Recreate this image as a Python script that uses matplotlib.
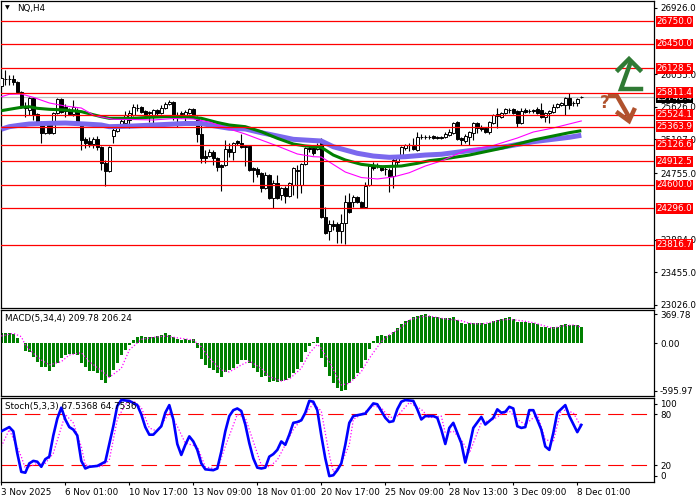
import numpy as np
import matplotlib
matplotlib.use('Agg')
import matplotlib.pyplot as plt
from matplotlib.patches import Rectangle
from matplotlib.transforms import blended_transform_factory

# NQ H4 candles
opens = [25899, 25991, 25991, 25991, 25951, 25820, 25623, 25584, 25741, 25531,
         25426, 25282, 25400, 25282, 25544, 25728, 25623, 25584, 25531, 25571,
         25387, 25203, 25177, 25138, 25203, 25098, 24888, 24783, 25243, 25308,
         25374, 25413, 25453, 25518, 25610, 25623, 25571, 25544, 25518, 25584,
         25544, 25610, 25663, 25689, 25518, 25531, 25518, 25544, 25597, 25492,
         25269, 24980, 24980, 25033, 24954, 24862, 24862, 25072, 25033, 25177,
         25151, 25111, 25111, 24823, 24810, 24757, 24560, 24731, 24429, 24626,
         24469, 24560, 24455, 24600, 24797, 24600, 24875, 25085, 25085, 25072,
         25164, 24180, 23996, 24088, 24088, 23996, 24101, 24377, 24377, 24442,
         24377, 24311, 24600, 24849, 24849, 24849, 24810, 24797, 24718, 24902,
         24967, 25085, 25125, 25111, 25059, 25230, 25230, 25230, 25243, 25230,
         25230, 25230, 25256, 25282, 25426, 25216, 25177, 25230, 25282, 25413,
         25361, 25348, 25295, 25413, 25505, 25492, 25544, 25584, 25597, 25571,
         25413, 25584, 25571, 25584, 25597, 25584, 25492, 25544, 25558, 25623,
         25649, 25649, 25741, 25676, 25676, 25755]
highs = [26069, 26109, 26043, 26043, 25964, 25833, 25689, 25754, 25754, 25544,
         25440, 25413, 25413, 25558, 25741, 25741, 25663, 25610, 25715, 25610,
         25400, 25230, 25230, 25230, 25243, 25111, 24928, 25111, 25348, 25374,
         25479, 25571, 25584, 25663, 25663, 25636, 25584, 25571, 25597, 25597,
         25649, 25689, 25715, 25702, 25558, 25571, 25584, 25610, 25610, 25505,
         25387, 25059, 25072, 25059, 24967, 24875, 25190, 25151, 25164, 25190,
         25269, 25125, 25125, 24836, 24836, 24770, 24770, 24744, 24665, 24731,
         24574, 24587, 24639, 24836, 24862, 24888, 25098, 25125, 25125, 25151,
         25216, 24311, 24141, 24141, 24114, 24219, 24469, 24495, 24469, 24455,
         24390, 24639, 24862, 24902, 24888, 24862, 24862, 24823, 24954, 24967,
         25111, 25138, 25151, 25216, 25295, 25269, 25256, 25256, 25256, 25243,
         25243, 25295, 25335, 25426, 25440, 25230, 25269, 25308, 25426, 25426,
         25387, 25361, 25440, 25531, 25610, 25558, 25610, 25610, 25610, 25584,
         25610, 25610, 25597, 25597, 25623, 25676, 25558, 25584, 25663, 25676,
         25689, 25754, 25807, 25702, 25741, 25765]
lows = [25873, 25912, 25912, 25912, 25807, 25610, 25492, 25518, 25453, 25413,
        25151, 25269, 25269, 25269, 25531, 25544, 25492, 25518, 25505, 25387,
        25059, 25085, 25098, 25085, 25059, 24797, 24587, 24770, 25151, 25295,
        25361, 25374, 25348, 25505, 25571, 25544, 25505, 25426, 25413, 25518,
        25531, 25597, 25649, 25453, 25361, 25479, 25387, 25531, 25505, 25164,
        24888, 24888, 24967, 24862, 24783, 24521, 24849, 24967, 24928, 25125,
        25085, 24849, 24783, 24639, 24705, 24508, 24547, 24416, 24298, 24416,
        24403, 24364, 24442, 24469, 24429, 24495, 24862, 25033, 24993, 25059,
        24167, 23957, 23878, 24009, 23839, 23839, 23826, 24232, 24311, 24364,
        24298, 24298, 24587, 24797, 24823, 24783, 24731, 24508, 24560, 24862,
        24954, 25059, 25046, 25059, 25046, 25203, 25203, 25203, 25203, 25203,
        25203, 25216, 25243, 25269, 25190, 25125, 25151, 25125, 25190, 25282,
        25308, 25282, 25269, 25400, 25348, 25479, 25531, 25544, 25531, 25361,
        25400, 25544, 25544, 25544, 25531, 25479, 25426, 25413, 25544, 25610,
        25636, 25518, 25597, 25636, 25636, 25735]
closes = [26004, 25985, 25995, 25951, 25820, 25623, 25610, 25741, 25518, 25426,
          25282, 25400, 25282, 25544, 25728, 25558, 25571, 25531, 25623, 25426,
          25190, 25151, 25138, 25203, 25098, 24888, 24783, 25098, 25321, 25361,
          25440, 25518, 25544, 25623, 25605, 25558, 25518, 25558, 25584, 25544,
          25610, 25663, 25689, 25518, 25505, 25544, 25558, 25597, 25518, 25269,
          24954, 24954, 25033, 24954, 24836, 24836, 25072, 25033, 25151, 25151,
          25098, 25098, 24797, 24797, 24744, 24560, 24731, 24429, 24626, 24429,
          24560, 24455, 24626, 24823, 24790, 24875, 25085, 25072, 25020, 25111,
          24180, 23970, 24088, 24062, 23996, 24101, 24377, 24245, 24442, 24377,
          24311, 24587, 24849, 24823, 24845, 24797, 24815, 24718, 24928, 24954,
          25098, 25125, 25120, 25072, 25230, 25225, 25235, 25225, 25216, 25216,
          25216, 25269, 25295, 25413, 25203, 25190, 25243, 25295, 25413, 25348,
          25335, 25295, 25426, 25518, 25531, 25544, 25597, 25580, 25544, 25413,
          25571, 25558, 25565, 25571, 25544, 25492, 25544, 25571, 25623, 25663,
          25676, 25741, 25649, 25670, 25728, 25748.4]

# moving averages (fast / medium / slow), sampled along the lines
ma_fast_idx = [0, 2, 5, 8, 12, 16, 20, 23, 25, 28, 33, 38, 43, 48, 52, 57, 61, 65, 69, 74,
               78, 80, 82, 86, 90, 94, 98, 102, 106, 110, 116, 123, 129, 133, 138, 145]
ma_fast = [25758, 25790, 25794, 25750, 25676, 25636, 25610, 25518, 25492, 25462,
           25459, 25453, 25472, 25466, 25426, 25335, 25269, 25190, 25112, 25007,
           24971, 24967, 24902, 24770, 24698, 24679, 24705, 24761, 24849, 24915,
           25052, 25118, 25216, 25295, 25348, 25440]
ma_mid_idx = [0, 2, 5, 7, 9, 12, 16, 20, 25, 27, 33, 37, 41, 46, 50, 54, 57, 61, 65, 69,
              73, 76, 80, 83, 86, 90, 95, 100, 104, 107, 110, 117, 125, 133, 142, 145]
ma_mid = [25575, 25593, 25619, 25627, 25606, 25593, 25584, 25562, 25496, 25475,
          25475, 25488, 25496, 25496, 25475, 25420, 25387, 25365, 25299, 25213,
          25138, 25112, 25094, 24993, 24928, 24871, 24840, 24849, 24884, 24919,
          24937, 24993, 25081, 25190, 25286, 25312]
ma_slow_idx = [0, 2, 5, 7, 12, 16, 21, 25, 27, 33, 41, 46, 50, 53, 57, 61, 65, 69, 73, 80,
               83, 89, 93, 97, 101, 106, 110, 117, 125, 133, 142, 145]
ma_slow = [25331, 25365, 25387, 25400, 25409, 25413, 25400, 25387, 25365, 25374,
           25394, 25407, 25407, 25378, 25344, 25335, 25286, 25243, 25199, 25177,
           25102, 25016, 24980, 24963, 24971, 24993, 25003, 25050, 25094, 25168,
           25226, 25252]

level_prices = [26750.0, 26450.0, 26128.5, 25811.4, 25524.1, 25363.9,
                25126.6, 24912.5, 24600.0, 24296.0, 23816.7]
last_price = 25748.4
price_ticks = [26926.0, 26055.0, 25626.0, 25197.0, 24755.0,
               23884.0, 23455.0, 23026.0]

# MACD(5,34,4)
macd_hist = [127, 127, 135, 118, 64, 9, -92, -104, -167, -230,
             -293, -293, -344, -293, -251, -188, -146, -134, -134, -146,
             -251, -293, -344, -344, -369, -461, -503, -428, -335, -251,
             -146, -83, -20, 43, 85, 93, 85, 76, 85, 93,
             102, 127, 110, 76, 51, 43, 51, 43, 51, -62,
             -201, -272, -314, -335, -369, -419, -356, -335, -314, -264,
             -209, -209, -251, -306, -356, -419, -407, -482, -474, -491,
             -474, -461, -432, -377, -323, -230, -104, -29, 13, 81,
             -180, -293, -407, -503, -558, -596, -587, -503, -449, -377,
             -314, -209, -71, 30, 97, 106, 97, 106, 148, 190,
             247, 284, 299, 337, 345, 358, 370, 345, 337, 328,
             316, 316, 316, 328, 295, 253, 244, 253, 261, 253,
             253, 244, 261, 286, 295, 312, 320, 328, 303, 274,
             274, 274, 261, 261, 244, 211, 202, 190, 202, 211,
             228, 244, 232, 228, 232, 209.78]
macd_sig_idx = [0, 3, 5, 6, 8, 10, 12, 15, 17, 20, 22, 25, 27, 30, 32, 35, 38, 41, 45, 48,
                50, 52, 55, 57, 60, 62, 65, 67, 70, 72, 75, 77, 79, 80, 82, 85, 87, 90, 92, 95,
                97, 100, 102, 105, 107, 110, 112, 115, 117, 120, 122, 125, 127, 130, 133, 135,
                138, 140, 143, 145]
macd_sig = [93, 127, 85, -20, -125, -209, -272, -230, -146, -117,
            -230, -344, -428, -314, -83, 51, 76, 93, 63, 42,
            -41, -188, -335, -360, -272, -222, -314, -419, -474, -449,
            -314, -125, -12, -63, -230, -524, -503, -356, -188, 22,
            106, 200, 295, 337, 345, 316, 303, 286, 253, 244,
            261, 295, 303, 286, 261, 232, 190, 219, 232, 206.24]

# Stoch(5,3,3)
stoch_idx = [0, 2, 3, 4, 5, 6, 7, 8, 9, 10, 11, 12, 13, 14, 15, 16, 17, 18, 19, 20,
             21, 22, 24, 26, 27, 28, 29, 30, 32, 34, 35, 36, 37, 38, 40, 41, 42, 43, 44, 45,
             46, 47, 48, 49, 50, 51, 53, 54, 55, 56, 57, 58, 59, 60, 61, 62, 63, 64, 65, 66,
             67, 68, 69, 70, 71, 72, 73, 74, 75, 76, 77, 78, 79, 80, 81, 82, 83, 84, 85, 86,
             87, 88, 90, 91, 93, 94, 95, 96, 97, 98, 99, 100, 101, 103, 104, 105, 106, 108,
             109, 110, 111, 112, 113, 114, 115, 116, 117, 118, 120, 121, 123, 124, 125, 126,
             127, 128, 129, 130, 131, 132, 133, 135, 136, 137, 138, 139, 141, 142, 144, 145]
stoch_main = [60, 65, 60, 34, 12, 11, 22, 25, 24, 18, 27, 30, 55, 75, 88, 74, 65, 62, 55, 25,
              16, 18, 19, 24, 45, 66, 90, 97, 96, 91, 80, 65, 56, 56, 66, 82, 91, 74, 45, 32,
              44, 54, 48, 38, 22, 15, 14, 16, 36, 60, 78, 85, 87, 84, 68, 46, 28, 17, 16, 17,
              30, 33, 38, 48, 44, 56, 70, 71, 73, 82, 96, 95, 85, 55, 28, 7, 8, 14, 22, 44,
              70, 78, 80, 81, 93, 92, 84, 76, 71, 72, 86, 95, 97, 96, 86, 74, 78, 78,
              76, 62, 45, 64, 70, 58, 46, 23, 42, 64, 77, 68, 76, 86, 82, 83,
              89, 87, 66, 64, 65, 85, 85, 62, 42, 38, 58, 82, 91, 78, 59, 67.5368]
stoch_sig_idx = [0, 2, 5, 6, 9, 11, 13, 16, 18, 20, 21, 25, 27, 29, 31, 33, 35, 37, 39, 42,
                 44, 46, 49, 51, 54, 56, 59, 61, 63, 65, 67, 69, 71, 73, 76, 78, 80, 82, 83, 85,
                 87, 88, 90, 93, 95, 97, 99, 102, 105, 107, 110, 111, 113, 115, 117, 118, 120,
                 123, 125, 127, 129, 131, 134, 136, 138, 140, 143, 145]
stoch_sig = [42, 62, 30, 16, 22, 22, 34, 80, 70, 42, 20, 18, 26, 74, 92, 96, 88, 64, 60, 82,
             66, 46, 42, 18, 15, 42, 80, 76, 48, 20, 18, 26, 44, 62, 80, 93, 84, 32, 12, 22,
             44, 74, 80, 90, 88, 76, 78, 94, 86, 76, 78, 58, 60, 50, 34, 46, 70,
             74, 80, 84, 74, 68, 80, 50, 48, 86, 82, 64.7536]

date_idx = [0, 16, 32, 48, 64, 80, 96, 112, 128, 144]
date_labels = ['3 Nov 2025', '6 Nov 01:00', '10 Nov 17:00', '13 Nov 09:00', '18 Nov 01:00',
               '20 Nov 17:00', '25 Nov 09:00', '28 Nov 13:00', '3 Dec 09:00', '8 Dec 01:00']

FS = 6.3
W, H = 700, 500


def box(l, t, r, b):
    return [l / W, 1 - b / H, (r - l) / W, (b - t) / H]


fig = plt.figure(figsize=(7, 5), dpi=100)
ax = fig.add_axes(box(1, 1, 654, 308))
ax_m = fig.add_axes(box(1, 310, 654, 396))
ax_s = fig.add_axes(box(1, 397.5, 654, 482))

xlim = (-0.075, 163.175)
for a in (ax, ax_m, ax_s):
    a.set_xlim(*xlim)
    a.yaxis.tick_right()
    a.tick_params(axis='y', direction='out', length=2.5, width=0.8, pad=1.8,
                  labelsize=FS, colors='black')
    for s in a.spines.values():
        s.set_linewidth(0.9)
        s.set_color('black')
for a in (ax, ax_m):
    a.set_xticks([])

# ---- main chart ----
x = np.arange(len(closes))
o = np.array(opens, dtype=float)
c = np.array(closes, dtype=float)
up = c >= o
ax.set_ylim(22986, 27014)
ax.axhline(last_price, color='#c0c0c0', lw=0.9, zorder=1)
ax.vlines(x, lows, highs, color='black', lw=0.8, zorder=2)
ax.bar(x, c - o, bottom=o, width=0.72, color=np.where(up, 'white', 'black'),
       edgecolor='black', lw=0.7, zorder=3)
ax.plot(ma_slow_idx, ma_slow, color='#7b68ee', lw=3.6, zorder=4, solid_capstyle='butt')
ax.plot(ma_mid_idx, ma_mid, color='#008000', lw=2.2, zorder=4.1, solid_capstyle='butt')
ax.plot(ma_fast_idx, ma_fast, color='#ff00ff', lw=0.8, zorder=4.2)
for p in level_prices:
    ax.axhline(p, color='red', lw=0.9, zorder=5)

ax.set_yticks(price_ticks)
ax.set_yticklabels(['{:.1f}'.format(v) for v in price_ticks])

tr = blended_transform_factory(ax.transAxes, ax.transData)
bw = 37 / 653.0
bh = 5.4 * 13.12
ax.add_patch(Rectangle((1.003, last_price - bh), bw, 2 * bh, transform=tr, fc='black',
                       ec='none', clip_on=False, zorder=8))
ax.text(1.003 + bw / 2, last_price, '{:.1f}'.format(last_price), transform=tr, ha='center',
        va='center', fontsize=FS, color='white', clip_on=False, zorder=8.5)
for p in level_prices:
    ax.add_patch(Rectangle((1.003, p - bh), bw, 2 * bh, transform=tr, fc='red',
                           ec='none', clip_on=False, zorder=9))
    ax.text(1.003 + bw / 2, p, '{:.1f}'.format(p), transform=tr, ha='center', va='center',
            fontsize=FS, color='white', clip_on=False, zorder=9.5)

# ---- MACD ----
ax_m.set_ylim(-663, 421)
ax_m.bar(x, macd_hist, width=0.72, color='#008000', zorder=2)
ax_m.plot(macd_sig_idx, macd_sig, color='#ff00ff', lw=0.9, ls=(0, (1, 1.6)), zorder=3)
ax_m.set_yticks([369.78, 0, -595.97])
ax_m.set_yticklabels(['369.78', '0.00', '-595.97'])

# ---- Stochastic ----
ax_s.set_ylim(0, 100)
for lv in (20, 80):
    ax_s.axhline(lv, color='red', lw=0.8, ls=(0, (14, 7)), zorder=1)
ax_s.plot(stoch_sig_idx, stoch_sig, color='#ff00ff', lw=0.9, ls=(0, (1, 1.6)), zorder=2)
ax_s.plot(stoch_idx, stoch_main, color='#0000ff', lw=1.9, zorder=3)
ax_s.set_yticks([7.5, 20, 80, 92.5])
ax_s.set_yticklabels(['0', '20', '80', '100'])
ax_s.set_xticks(date_idx)
ax_s.set_xticklabels(date_labels)
ax_s.tick_params(axis='x', direction='out', length=2.5, width=0.8, pad=2, labelsize=FS)
for lbl in ax_s.get_xticklabels():
    lbl.set_ha('left')

# ---- captions ----
fig.text(5 / W, 1 - 8 / H, '\u25bc', fontsize=4.5, va='center', ha='left')
fig.text(17 / W, 1 - 8 / H, 'NQ,H4', fontsize=FS, va='center', ha='left')
fig.text(5 / W, 1 - 318 / H, 'MACD(5,34,4) 209.78 206.24', fontsize=FS, va='center', ha='left')
fig.text(5 / W, 1 - 406 / H, 'Stoch(5,3,3) 67.5368 64.7536', fontsize=FS, va='center', ha='left')

# ---- forecast arrows (overlay in pixel space) ----
ov = fig.add_axes([0, 0, 1, 1], zorder=20)
ov.set_xlim(0, W)
ov.set_ylim(H, 0)
ov.axis('off')
ov.patch.set_alpha(0)
green = '#2f7a34'
ov.plot([618, 629, 640], [70, 59, 70], color=green, lw=3.2, solid_joinstyle='miter')
ov.plot([630, 621, 641], [64, 89, 89], color=green, lw=3.2, solid_joinstyle='miter')
brown = '#b0522d'
ov.text(605, 103, '?', color=brown, fontsize=12, fontweight='bold', ha='center', va='center')
ov.plot([610, 617, 629], [96, 96, 117], color=brown, lw=3.2, solid_joinstyle='miter')
ov.plot([618, 629, 634], [113, 121, 110], color=brown, lw=3.2, solid_joinstyle='miter')

fig.savefig('out.png', dpi=100)
